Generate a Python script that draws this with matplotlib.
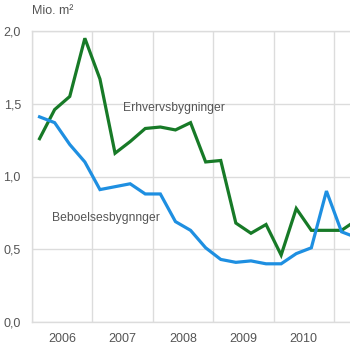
import numpy as np
import matplotlib
matplotlib.use("Agg")
import matplotlib.pyplot as plt

# quarterly values, Mio. m2 (2006 K1 .. 2011 K2)
years = ["2006", "2007", "2008", "2009", "2010"]
erhverv = [1.26, 1.46, 1.55, 1.95, 1.67, 1.16, 1.24, 1.33, 1.34, 1.32, 1.37,
           1.10, 1.11, 0.68, 0.61, 0.67, 0.46, 0.78, 0.63, 0.63, 0.63, 0.70]
bolig = [1.41, 1.37, 1.22, 1.10, 0.91, 0.93, 0.95, 0.88, 0.88, 0.69, 0.63,
         0.51, 0.43, 0.41, 0.42, 0.40, 0.40, 0.47, 0.51, 0.90, 0.62, 0.58]

plt.rcParams["font.family"] = ["Liberation Sans", "DejaVu Sans"]
txt_col = "#555555"
grid_col = "#dcdcdc"

fig = plt.figure(figsize=(3.5, 3.5), dpi=100)
ax = fig.add_axes([32/350, 28/350, 318/350, 291/350])

q = np.arange(len(erhverv))
ax.plot(q, erhverv, color="#177a27", lw=2.3, solid_joinstyle="miter")
ax.plot(q, bolig, color="#1e8fe1", lw=2.3, solid_joinstyle="miter")

ax.set_xlim(-0.5, 20.56)
ax.set_ylim(0, 2.0)

# gridlines on year boundaries, labels in the middle of each year
ax.set_xticks(np.arange(len(years) + 1) * 4 - 0.5)
ax.set_xticks(np.arange(len(years)) * 4 + 1.5, minor=True)
ax.set_xticklabels([""] * (len(years) + 1))
ax.set_xticklabels(years, minor=True)
ax.set_yticks([0, 0.5, 1.0, 1.5, 2.0])
ax.set_yticklabels(["0,0", "0,5", "1,0", "1,5", "2,0"])

ax.grid(True, which="major", color=grid_col, lw=1)
ax.tick_params(which="both", length=0, labelsize=9, labelcolor=txt_col)
ax.tick_params(axis="y", pad=8)
ax.tick_params(axis="x", which="minor", pad=8)
for s in ["top", "bottom", "left"]:
    ax.spines[s].set_color(grid_col)
    ax.spines[s].set_linewidth(1)
ax.spines["right"].set_visible(False)

ax.text(8.9, 1.47, "Erhvervsbygninger", color=txt_col, fontsize=8.7,
        ha="center", va="center")
ax.text(4.4, 0.715, "Beboelsesbygnnger", color=txt_col, fontsize=8.7,
        ha="center", va="center")
fig.text(32/350, 1 - 11/350, "Mio. m²", color=txt_col, fontsize=9,
         ha="left", va="center")

fig.savefig("out.png", dpi=100)
